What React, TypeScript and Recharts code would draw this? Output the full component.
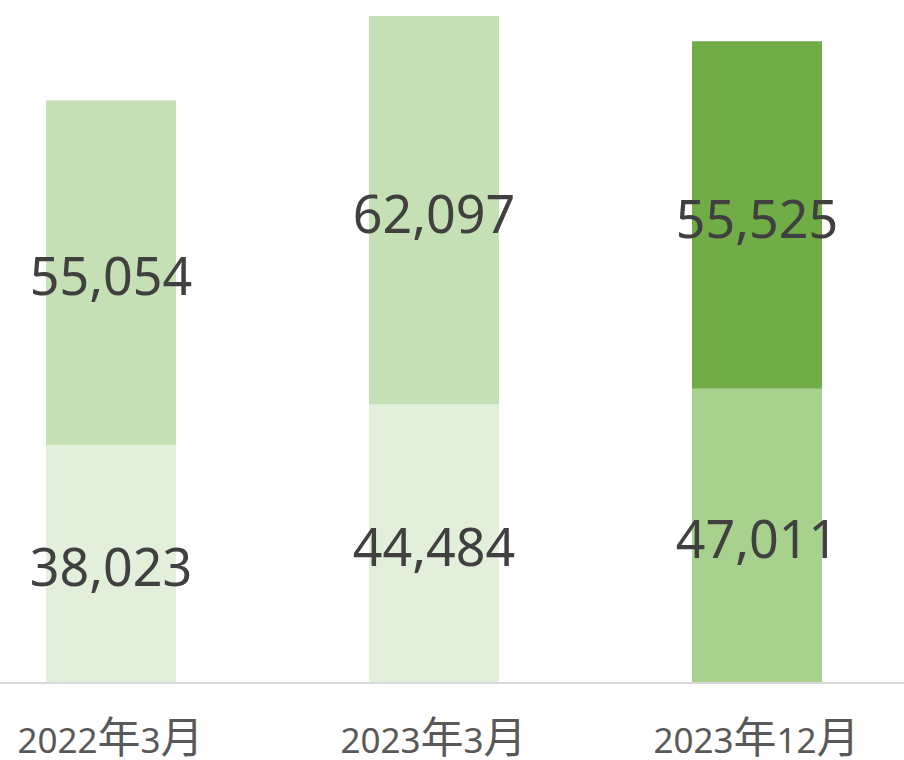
import { BarChart, Bar, XAxis, YAxis, Cell, LabelList } from "recharts";

const categories = ["2022年3月", "2023年3月", "2023年12月"];
const lowerValues = [38023, 44484, 47011];
const upperValues = [55054, 62097, 55525];

const LOWER_COLORS = ["#e2efda", "#e2efda", "#a9d18e"];
const UPPER_COLORS = ["#c5e0b4", "#c5e0b4", "#70ad47"];

const data = categories.map((name, i) => ({
  name,
  lower: lowerValues[i],
  upper: upperValues[i],
}));

const LATIN = "'Noto Sans', sans-serif";
const CJK = "'Noto Sans CJK JP', sans-serif";

const fmt = (v: any) => Number(v).toLocaleString("en-US");

// digits and kanji are drawn at different sizes to mimic the Excel font
function CategoryTick(props: any) {
  const { x, y, payload } = props;
  const parts: string[] = String(payload.value).match(/[0-9]+|[^0-9]+/g) || [];
  return (
    <text x={x} y={y + 70} textAnchor="middle" fill="#595959">
      {parts.map((p, i) =>
        /[0-9]/.test(p) ? (
          <tspan key={i} fontSize={35} fontFamily={LATIN}>
            {p}
          </tspan>
        ) : (
          <tspan key={i} fontSize={43} fontFamily={CJK}>
            {p}
          </tspan>
        )
      )}
    </text>
  );
}

export default function App() {
  return (
    <div
      style={{
        position: "absolute",
        left: 0,
        top: 0,
        width: 904,
        height: 760,
        overflow: "hidden",
        background: "#fff",
      }}
    >
      <div style={{ position: "absolute", left: -51, top: 0 }}>
        <BarChart
          width={969}
          height={760}
          data={data}
          margin={{ top: 16, right: 0, bottom: 0, left: 0 }}
          barSize={130}
        >
          <XAxis
            dataKey="name"
            height={77}
            tickLine={false}
            tickSize={0}
            tickMargin={0}
            axisLine={{ stroke: "#d9d9d9", strokeWidth: 2 }}
            tick={<CategoryTick />}
            interval={0}
          />
          <YAxis hide domain={[0, 106581]} />
          <Bar dataKey="lower" stackId="a" isAnimationActive={false}>
            {data.map((d, i) => (
              <Cell key={d.name} fill={LOWER_COLORS[i]} />
            ))}
            <LabelList
              dataKey="lower"
              position="center"
              formatter={fmt}
              fill="#404040"
              fontSize={52}
              fontFamily={LATIN}
              dy={4}
            />
          </Bar>
          <Bar dataKey="upper" stackId="a" isAnimationActive={false}>
            {data.map((d, i) => (
              <Cell key={d.name} fill={UPPER_COLORS[i]} />
            ))}
            <LabelList
              dataKey="upper"
              position="center"
              formatter={fmt}
              fill="#404040"
              fontSize={52}
              fontFamily={LATIN}
              dy={4}
            />
          </Bar>
        </BarChart>
      </div>
    </div>
  );
}
